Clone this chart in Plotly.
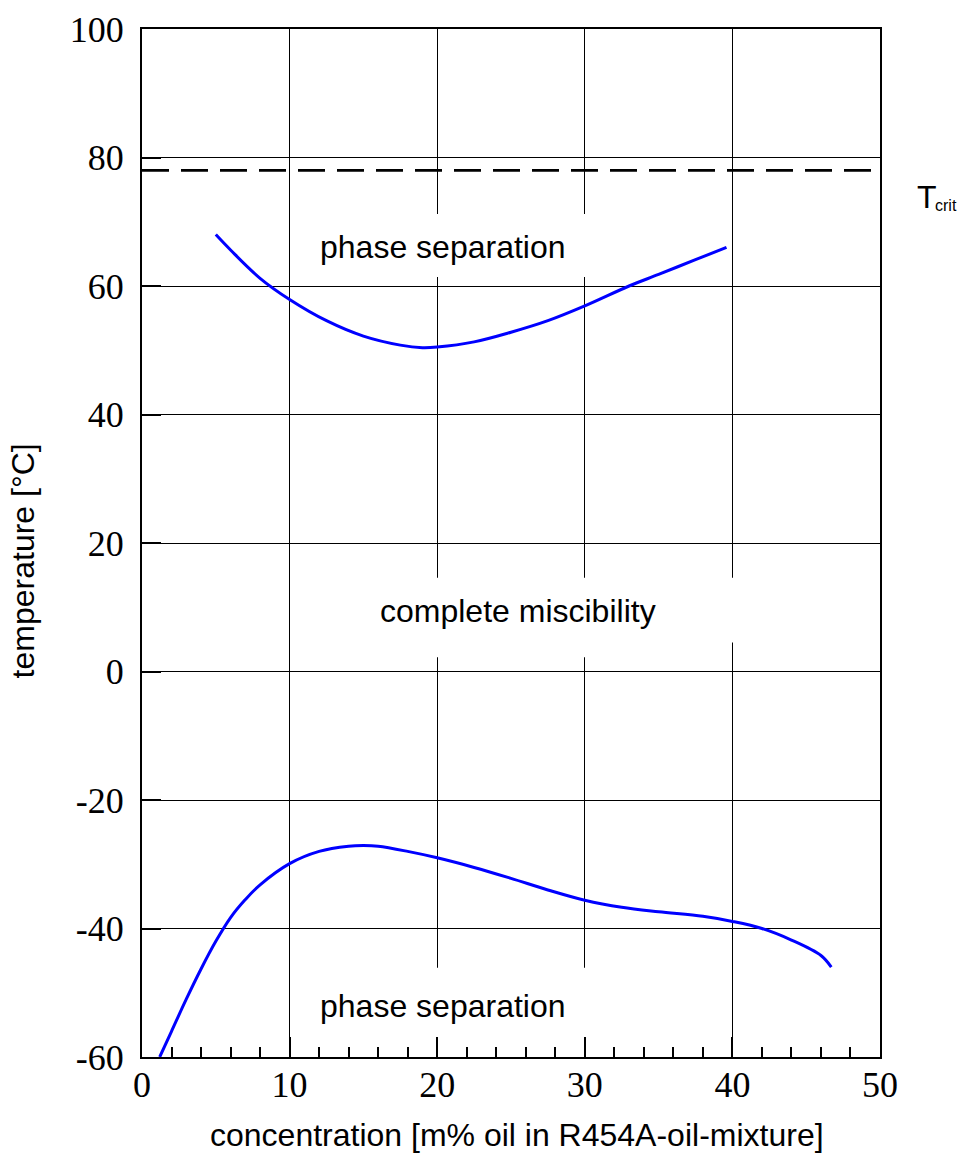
import plotly.graph_objects as go

# ---- data ----
upper_x = [5, 6, 8, 10, 12.5, 15, 17.5, 19, 20, 22.5, 25, 27.5, 30, 33, 35, 37.5, 39.6]
upper_t = [68, 65.6, 61.2, 57.9, 54.6, 52.2, 50.8, 50.4, 50.5, 51.3, 52.8, 54.6, 56.9, 60.0, 61.8, 64.1, 66.0]

lower_x = [1.2, 2, 3, 4, 5, 6, 7, 8, 10, 12, 14, 15, 16, 18, 20, 22.5, 25, 27.5, 30, 32.5, 35, 38, 40, 42, 44, 46, 46.7]
lower_t = [-60, -56.0, -51.0, -46.3, -42.0, -38.3, -35.5, -33.2, -29.9, -28.0, -27.2, -27.1, -27.2, -28.0, -29.0,
           -30.5, -32.2, -34.0, -35.6, -36.7, -37.4, -38.1, -38.9, -40.0, -41.8, -44.2, -46.0]

t_crit = 78
x_ticks = [0, 10, 20, 30, 40, 50]
y_ticks = [-60, -40, -20, 0, 20, 40, 60, 80, 100]

region_labels = ["phase separation", "complete miscibility", "phase separation"]
region_x = [20.39, 25.47, 20.39]
region_y = [66.0, 9.35, -52.0]

x_title = "concentration [m% oil in R454A-oil-mixture]"
y_title = "temperature [°C]"

SANS = "Liberation Sans, Arial, sans-serif"
SERIF = "Liberation Serif, Times New Roman, serif"

W, H = 962, 1155

fig = go.Figure()

fig.add_trace(go.Scatter(x=upper_x, y=upper_t, mode="lines",
                         line=dict(color="#0000FF", width=3, shape="spline", smoothing=1.0),
                         showlegend=False, hoverinfo="skip"))
fig.add_trace(go.Scatter(x=lower_x, y=lower_t, mode="lines",
                         line=dict(color="#0000FF", width=3, shape="spline", smoothing=1.0),
                         showlegend=False, hoverinfo="skip"))
fig.add_trace(go.Scatter(x=[0, 50], y=[t_crit, t_crit], mode="lines",
                         line=dict(color="black", width=2.8, dash="27px,12px"),
                         showlegend=False, hoverinfo="skip"))

# white label boxes covering grid lines
boxes = [
    (10.4, 35.0, 61.4, 71.2),
    (10.6, 39.5, 2.2, 14.6),
    (39.5, 40.5, 4.5, 14.6),
    (10.05, 35.0, -56.9, -46.1),
]
for x0, x1, y0, y1 in boxes:
    fig.add_shape(type="rect", x0=x0, x1=x1, y0=y0, y1=y1, xref="x", yref="y",
                  fillcolor="white", line=dict(width=0), layer="between")

for txt, xx, yy in zip(region_labels, region_x, region_y):
    fig.add_annotation(x=xx, y=yy, xref="x", yref="y", text=txt, showarrow=False,
                       font=dict(family=SANS, size=32, color="black"))

# T_crit label: "T" plus a small "crit"
fig.add_annotation(x=1.0475, y=73.8, xref="paper", yref="y", xanchor="left", yanchor="middle",
                   text="T", showarrow=False, font=dict(family=SANS, size=32, color="black"))
fig.add_annotation(x=1.0715, y=72.6, xref="paper", yref="y", xanchor="left", yanchor="middle",
                   text="crit", showarrow=False, font=dict(family=SANS, size=16, color="black"))

fig.add_annotation(x=0.508, y=0, xref="paper", yref="paper", yshift=-78, xanchor="center", yanchor="middle",
                   text=x_title, showarrow=False, font=dict(family=SANS, size=32, color="black"))
fig.add_annotation(x=-0.160, y=0.483, xref="paper", yref="paper", textangle=-90,
                   xanchor="center", yanchor="middle",
                   text=y_title, showarrow=False, font=dict(family=SANS, size=32, color="black"))

fig.update_xaxes(range=[0, 50], tickvals=x_ticks, ticktext=[str(v) for v in x_ticks],
                 showgrid=True, gridcolor="black", gridwidth=1.2,
                 showline=True, linecolor="black", linewidth=2, mirror=True,
                 ticks="inside", ticklen=20, tickwidth=2, tickcolor="black",
                 minor=dict(dtick=2, ticks="inside", ticklen=10, tickwidth=1.5, tickcolor="black", showgrid=False),
                 zeroline=False, ticklabelstandoff=-5, automargin=False,
                 tickfont=dict(family=SERIF, size=36, color="black"))
fig.update_yaxes(range=[-60, 100], tickvals=y_ticks, ticktext=[str(v) for v in y_ticks],
                 showgrid=True, gridcolor="black", gridwidth=1.2,
                 showline=True, linecolor="black", linewidth=2, mirror=True,
                 ticks="inside", ticklen=19, tickwidth=2, tickcolor="black",
                 zeroline=False, ticklabelstandoff=9, automargin=False,
                 tickfont=dict(family=SERIF, size=36, color="black"))

fig.update_layout(width=W, height=H, margin=dict(l=142, r=82, t=29, b=98),
                  plot_bgcolor="white", paper_bgcolor="white", showlegend=False)

fig.write_html("out.html", config={"displayModeBar": False},
               post_script="document.body.style.margin='0';document.documentElement.style.overflow='hidden';")
